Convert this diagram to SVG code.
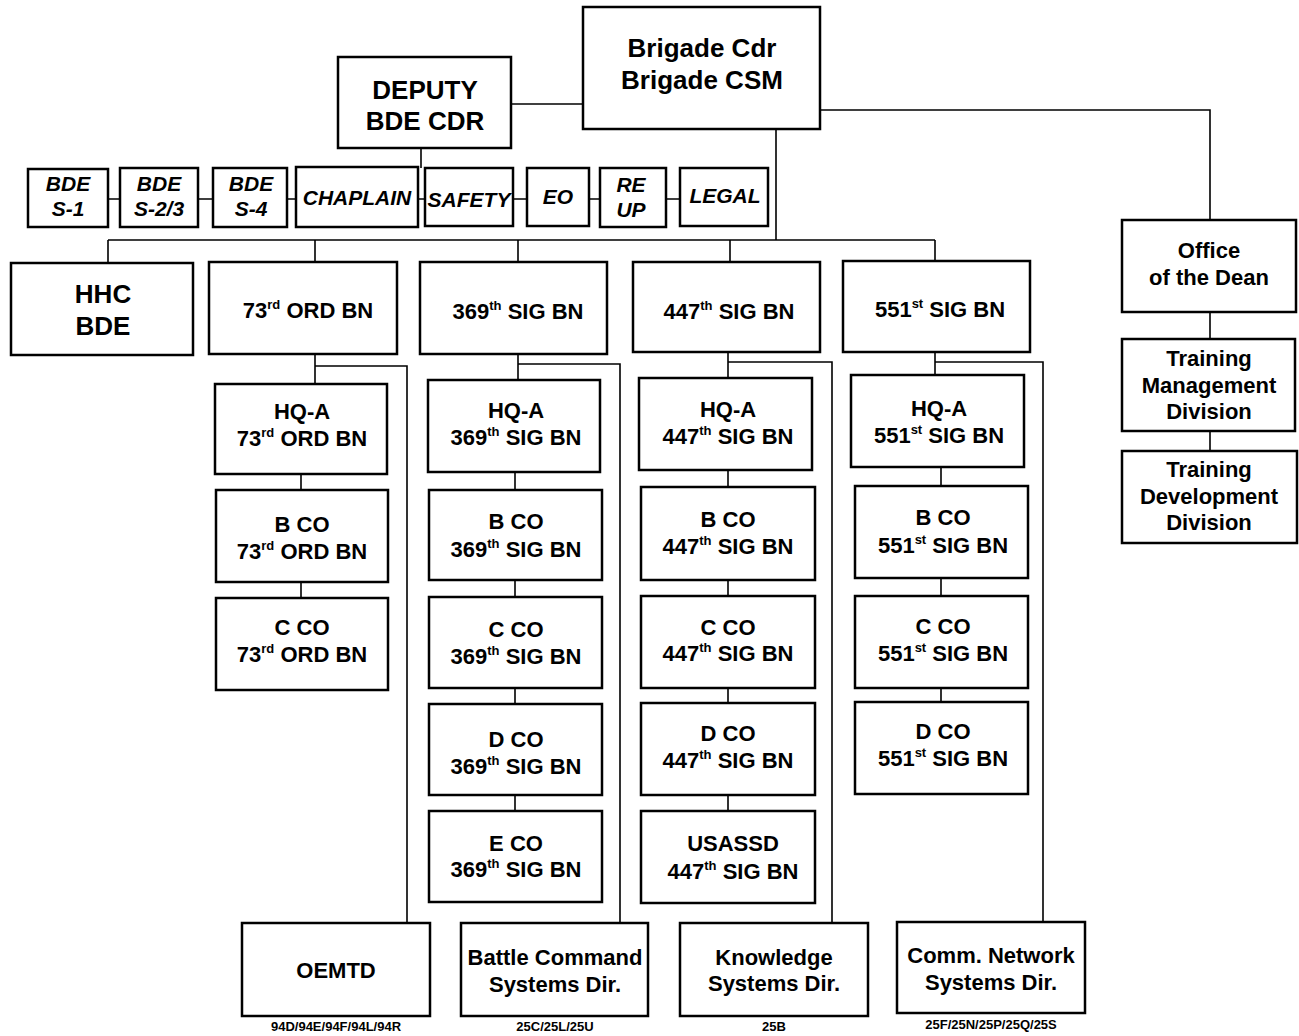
<svg xmlns="http://www.w3.org/2000/svg" width="1299" height="1036" viewBox="0 0 1299 1036">
<style>
.b{fill:#fff;stroke:#000;stroke-width:2.5}
.c{fill:none;stroke:#000;stroke-width:1.6}
text{font-family:"Liberation Sans",Arial,sans-serif;font-weight:bold;text-anchor:middle;fill:#000}
.t{font-size:22px}
.L{font-size:26px}
.i{font-size:21px;font-style:italic}
.m{font-size:13px}
.sup{font-size:13px}
</style>
<rect width="1299" height="1036" fill="#fff"/>
<g id="connectors">
<path class="c" d="M511 104H583"/>
<path class="c" d="M421 148V168"/>
<path class="c" d="M108 199H120M198 199H213M287 199H296M418 199H425M513 199H527M589 199H600M666 199H680"/>
<path class="c" d="M776 129V240M108 240H935M108 240V263M315 240V262M518 240V262M730 240V262M935 240V261"/>
<path class="c" d="M820 110H1210V220M1210 312V339M1210 431V451"/>
<path class="c" d="M315 354V384M315 366H407V923M301 474V490M301 582V598"/>
<path class="c" d="M518 354V380M518 364H620V923M515 472V490M515 580V597M515 688V704M515 795V811"/>
<path class="c" d="M728 352V378M728 362H832V923M728 470V487M728 580V596M728 688V703M728 795V811"/>
<path class="c" d="M935 352V375M935 362H1043V922M941 467V486M941 578V596M941 688V702"/>
</g>
<g id="brigade"><rect class="b" x="583" y="7" width="237" height="122"/><text class="L" x="702" y="57">Brigade Cdr</text><text class="L" x="702" y="89">Brigade CSM</text></g>
<g id="deputy"><rect class="b" x="338" y="57" width="173" height="91"/><text class="L" x="425" y="99">DEPUTY</text><text class="L" x="425" y="130">BDE CDR</text></g>
<g id="s1"><rect class="b" x="28" y="169" width="80" height="58"/><text class="i" x="68" y="191">BDE</text><text class="i" x="68" y="216">S-1</text></g>
<g id="s23"><rect class="b" x="120" y="168" width="78" height="59"/><text class="i" x="159" y="191">BDE</text><text class="i" x="159" y="216">S-2/3</text></g>
<g id="s4"><rect class="b" x="213" y="168" width="74" height="59"/><text class="i" x="251" y="191">BDE</text><text class="i" x="251" y="216">S-4</text></g>
<g id="chaplain"><rect class="b" x="296" y="167" width="122" height="60"/><text class="i" x="357" y="205">CHAPLAIN</text></g>
<g id="safety"><rect class="b" x="425" y="168" width="88" height="58"/><text class="i" x="469" y="207">SAFETY</text></g>
<g id="eo"><rect class="b" x="527" y="168" width="62" height="58"/><text class="i" x="558" y="204">EO</text></g>
<g id="reup"><rect class="b" x="600" y="168" width="66" height="59"/><text class="i" x="631" y="192">RE</text><text class="i" x="631" y="217">UP</text></g>
<g id="legal"><rect class="b" x="680" y="168" width="88" height="58"/><text class="i" x="725" y="203">LEGAL</text></g>
<g id="hhc"><rect class="b" x="11" y="263" width="182" height="92"/><text class="L" x="103" y="303">HHC</text><text class="L" x="103" y="335">BDE</text></g>
<g id="bn73"><rect class="b" x="209" y="262" width="188" height="92"/><text class="t" x="308" y="318">73<tspan class="sup" dy="-9">rd</tspan><tspan dy="9"> ORD BN</tspan></text></g>
<g id="bn369"><rect class="b" x="420" y="262" width="187" height="92"/><text class="t" x="518" y="319">369<tspan class="sup" dy="-9">th</tspan><tspan dy="9"> SIG BN</tspan></text></g>
<g id="bn447"><rect class="b" x="633" y="262" width="187" height="90"/><text class="t" x="729" y="319">447<tspan class="sup" dy="-9">th</tspan><tspan dy="9"> SIG BN</tspan></text></g>
<g id="bn551"><rect class="b" x="843" y="261" width="187" height="91"/><text class="t" x="940" y="317">551<tspan class="sup" dy="-9">st</tspan><tspan dy="9"> SIG BN</tspan></text></g>
<g id="dean"><rect class="b" x="1122" y="220" width="174" height="92"/><text class="t" x="1209" y="258">Office</text><text class="t" x="1209" y="285">of the Dean</text></g>
<g id="tmd"><rect class="b" x="1122" y="339" width="173" height="92"/><text class="t" x="1209" y="366">Training</text><text class="t" x="1209" y="393">Management</text><text class="t" x="1209" y="419">Division</text></g>
<g id="tdd"><rect class="b" x="1122" y="451" width="175" height="92"/><text class="t" x="1209" y="477">Training</text><text class="t" x="1209" y="504">Development</text><text class="t" x="1209" y="530">Division</text></g>
<g id="hqa73"><rect class="b" x="215" y="384" width="172" height="90"/><text class="t" x="302" y="419">HQ-A</text><text class="t" x="302" y="446">73<tspan class="sup" dy="-9">rd</tspan><tspan dy="9"> ORD BN</tspan></text></g>
<g id="bco73"><rect class="b" x="216" y="490" width="172" height="92"/><text class="t" x="302" y="532">B CO</text><text class="t" x="302" y="559">73<tspan class="sup" dy="-9">rd</tspan><tspan dy="9"> ORD BN</tspan></text></g>
<g id="cco73"><rect class="b" x="216" y="598" width="172" height="92"/><text class="t" x="302" y="635">C CO</text><text class="t" x="302" y="662">73<tspan class="sup" dy="-9">rd</tspan><tspan dy="9"> ORD BN</tspan></text></g>
<g id="hqa369"><rect class="b" x="428" y="380" width="172" height="92"/><text class="t" x="516" y="418">HQ-A</text><text class="t" x="516" y="445">369<tspan class="sup" dy="-9">th</tspan><tspan dy="9"> SIG BN</tspan></text></g>
<g id="bco369"><rect class="b" x="429" y="490" width="173" height="90"/><text class="t" x="516" y="529">B CO</text><text class="t" x="516" y="557">369<tspan class="sup" dy="-9">th</tspan><tspan dy="9"> SIG BN</tspan></text></g>
<g id="cco369"><rect class="b" x="429" y="597" width="173" height="91"/><text class="t" x="516" y="637">C CO</text><text class="t" x="516" y="664">369<tspan class="sup" dy="-9">th</tspan><tspan dy="9"> SIG BN</tspan></text></g>
<g id="dco369"><rect class="b" x="429" y="704" width="173" height="91"/><text class="t" x="516" y="747">D CO</text><text class="t" x="516" y="774">369<tspan class="sup" dy="-9">th</tspan><tspan dy="9"> SIG BN</tspan></text></g>
<g id="eco369"><rect class="b" x="429" y="811" width="173" height="91"/><text class="t" x="516" y="851">E CO</text><text class="t" x="516" y="877">369<tspan class="sup" dy="-9">th</tspan><tspan dy="9"> SIG BN</tspan></text></g>
<g id="hqa447"><rect class="b" x="639" y="378" width="173" height="92"/><text class="t" x="728" y="417">HQ-A</text><text class="t" x="728" y="444">447<tspan class="sup" dy="-9">th</tspan><tspan dy="9"> SIG BN</tspan></text></g>
<g id="bco447"><rect class="b" x="641" y="487" width="174" height="93"/><text class="t" x="728" y="527">B CO</text><text class="t" x="728" y="554">447<tspan class="sup" dy="-9">th</tspan><tspan dy="9"> SIG BN</tspan></text></g>
<g id="cco447"><rect class="b" x="641" y="596" width="174" height="92"/><text class="t" x="728" y="635">C CO</text><text class="t" x="728" y="661">447<tspan class="sup" dy="-9">th</tspan><tspan dy="9"> SIG BN</tspan></text></g>
<g id="dco447"><rect class="b" x="641" y="703" width="174" height="92"/><text class="t" x="728" y="741">D CO</text><text class="t" x="728" y="768">447<tspan class="sup" dy="-9">th</tspan><tspan dy="9"> SIG BN</tspan></text></g>
<g id="usassd"><rect class="b" x="641" y="811" width="174" height="92"/><text class="t" x="733" y="851">USASSD</text><text class="t" x="733" y="879">447<tspan class="sup" dy="-9">th</tspan><tspan dy="9"> SIG BN</tspan></text></g>
<g id="hqa551"><rect class="b" x="851" y="375" width="173" height="92"/><text class="t" x="939" y="416">HQ-A</text><text class="t" x="939" y="443">551<tspan class="sup" dy="-9">st</tspan><tspan dy="9"> SIG BN</tspan></text></g>
<g id="bco551"><rect class="b" x="855" y="486" width="173" height="92"/><text class="t" x="943" y="525">B CO</text><text class="t" x="943" y="553">551<tspan class="sup" dy="-9">st</tspan><tspan dy="9"> SIG BN</tspan></text></g>
<g id="cco551"><rect class="b" x="855" y="596" width="173" height="92"/><text class="t" x="943" y="634">C CO</text><text class="t" x="943" y="661">551<tspan class="sup" dy="-9">st</tspan><tspan dy="9"> SIG BN</tspan></text></g>
<g id="dco551"><rect class="b" x="855" y="702" width="173" height="92"/><text class="t" x="943" y="739">D CO</text><text class="t" x="943" y="766">551<tspan class="sup" dy="-9">st</tspan><tspan dy="9"> SIG BN</tspan></text></g>
<g id="oemtd"><rect class="b" x="242" y="923" width="188" height="93"/><text class="t" x="336" y="978">OEMTD</text><text class="m" x="336" y="1031">94D/94E/94F/94L/94R</text></g>
<g id="bcsd"><rect class="b" x="461" y="923" width="187" height="93"/><text class="t" x="555" y="965">Battle Command</text><text class="t" x="555" y="992">Systems Dir.</text><text class="m" x="555" y="1031">25C/25L/25U</text></g>
<g id="ksd"><rect class="b" x="680" y="923" width="188" height="93"/><text class="t" x="774" y="965">Knowledge</text><text class="t" x="774" y="991">Systems Dir.</text><text class="m" x="774" y="1031">25B</text></g>
<g id="cnsd"><rect class="b" x="897" y="922" width="188" height="91"/><text class="t" x="991" y="963">Comm. Network</text><text class="t" x="991" y="990">Systems Dir.</text><text class="m" x="991" y="1029">25F/25N/25P/25Q/25S</text></g>
</svg>
